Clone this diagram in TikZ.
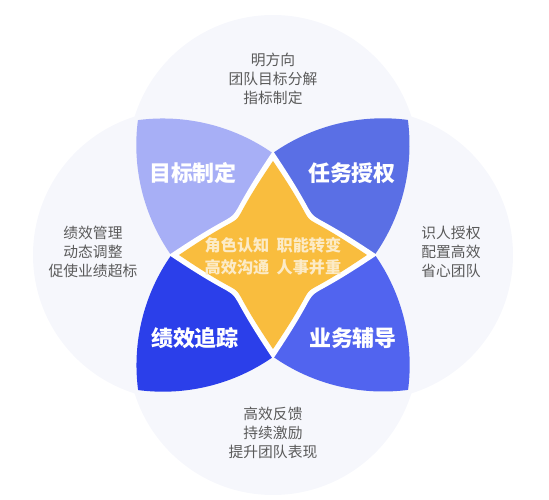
\documentclass[tikz,border=0pt]{standalone}
\usepackage{fontspec}
\setmainfont{Noto Sans CJK SC}
\usepackage{xcolor}
\usepackage{tikz}

\definecolor{bgcircle}{HTML}{F6F7FC}
\definecolor{petalTL}{HTML}{A7AFF6}
\definecolor{petalTR}{HTML}{5A6FE5}
\definecolor{petalBL}{HTML}{2B3FEA}
\definecolor{petalBR}{HTML}{5164EF}
\definecolor{corestar}{HTML}{F9BD3E}
\definecolor{coreink}{HTML}{FCEBC7}
\definecolor{sidegray}{HTML}{5A5A5A}

% star outline: tip distance, control pull along edge, control pull across
\newcommand\starshape[3]{(0,#1)
    .. controls (#3,#1-#2) and (#1-#2,#3) .. (#1,0)
    .. controls (#1-#2,-#3) and (#3,-#1+#2) .. (0,-#1)
    .. controls (-#3,-#1+#2) and (-#1+#2,-#3) .. (-#1,0)
    .. controls (-#1+#2,#3) and (-#3,#1-#2) .. (0,#1) -- cycle}

\begin{document}
\begin{tikzpicture}[x=0.02cm, y=0.02cm,
    petallabel/.style={text=white, font=\fontsize{12.5}{14}\selectfont\bfseries},
    sidenote/.style={text=sidegray, font=\fontsize{8.4}{11}\selectfont, align=center},
    corenote/.style={text=coreink, font=\fontsize{9.2}{12.5}\selectfont\bfseries, align=center}]

    \useasboundingbox (-273,-245) rectangle (276,255);

    % ==========================================
    % Background circles
    % ==========================================
    \foreach \a in {0,90,180,270}
        \fill[bgcircle] (\a:95) circle (145);

    % ==========================================
    % Four petals (top-left one, turned round)
    % ==========================================
    \def\petal{(0,0) -- (-102,0)
        arc[start angle=215.02, end angle=172.54, radius=191.7]
        arc[start angle=97.46, end angle=54.98, radius=191.7] -- cycle}
    \foreach \a/\c in {0/petalTL, -90/petalTR, 180/petalBR, 90/petalBL}
        \fill[\c, rotate=\a] \petal;

    % ==========================================
    % Centre star
    % ==========================================
    \fill[white] \starshape{104}{98}{66};
    \fill[corestar] \starshape{94}{90}{61};

    % ==========================================
    % Labels
    % ==========================================
    \node[petallabel] (goal) at (-80,82) {目标制定};
    \node[petallabel] (task) at (79,82) {任务授权};
    \node[petallabel] (track) at (-78,-83) {绩效追踪};
    \node[petallabel] (coach) at (80,-83) {业务辅导};

    \node[corenote] (core) at (0,-1)
        {角色认知\hspace{0.45em}职能转变\\高效沟通\hspace{0.45em}人事并重};

    \node[sidenote] (top) at (0,176) {明方向\\团队目标分解\\指标制定};
    \node[sidenote] (left) at (-180,3) {绩效管理\\动态调整\\促使业绩超标};
    \node[sidenote] (right) at (178,3) {识人授权\\配置高效\\省心团队};
    \node[sidenote] (bottom) at (0,-178) {高效反馈\\持续激励\\提升团队表现};

\end{tikzpicture}
\end{document}
